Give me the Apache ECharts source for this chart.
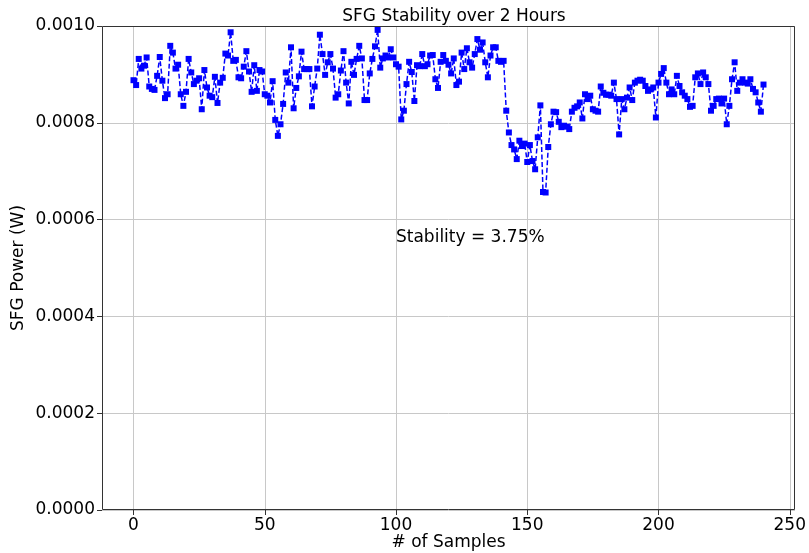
<!DOCTYPE html>
<html>
<head>
<meta charset="utf-8">
<script src="https://cdn.jsdelivr.net/npm/echarts@6/dist/echarts.min.js"></script>
<style>
  html, body { margin: 0; padding: 0; background: #fff; }
  #chart { width: 809px; height: 553px; }
</style>
</head>
<body>
<div id="chart"></div>
<script>
// SFG power readings (W), one per sample
var power = [
    0.000888, 0.000878, 0.000932, 0.000912, 0.000918, 0.000935, 0.000875, 0.000870, 0.000868, 0.000897,
    0.000936, 0.000887, 0.000851, 0.000859, 0.000959, 0.000945, 0.000912, 0.000920, 0.000859, 0.000835,
    0.000864, 0.000932, 0.000904, 0.000880, 0.000887, 0.000892, 0.000828, 0.000909, 0.000873, 0.000856,
    0.000853, 0.000895, 0.000841, 0.000883, 0.000893, 0.000943, 0.000939, 0.000987, 0.000928, 0.000930,
    0.000894, 0.000892, 0.000916, 0.000948, 0.000906, 0.000864, 0.000919, 0.000866, 0.000909, 0.000906,
    0.000859, 0.000856, 0.000842, 0.000886, 0.000806, 0.000773, 0.000797, 0.000839, 0.000904, 0.000883,
    0.000956, 0.000830, 0.000872, 0.000896, 0.000947, 0.000911, 0.000911, 0.000911, 0.000834, 0.000875,
    0.000912, 0.000982, 0.000942, 0.000899, 0.000925, 0.000942, 0.000912, 0.000852, 0.000859, 0.000908,
    0.000948, 0.000883, 0.000840, 0.000926, 0.000899, 0.000932, 0.000959, 0.000933, 0.000847, 0.000847,
    0.000902, 0.000932, 0.000958, 0.000992, 0.000914, 0.000933, 0.000939, 0.000935, 0.000952, 0.000935,
    0.000921, 0.000916, 0.000807, 0.000825, 0.000880, 0.000926, 0.000905, 0.000845, 0.000919, 0.000917,
    0.000942, 0.000917, 0.000921, 0.000939, 0.000940, 0.000890, 0.000872, 0.000926, 0.000940, 0.000928,
    0.000920, 0.000902, 0.000933, 0.000878, 0.000885, 0.000945, 0.000911, 0.000954, 0.000925, 0.000914,
    0.000942, 0.000973, 0.000951, 0.000966, 0.000925, 0.000894, 0.000939, 0.000956, 0.000956, 0.000928,
    0.000926, 0.000928, 0.000825, 0.000780, 0.000754, 0.000745, 0.000725, 0.000763, 0.000752, 0.000757,
    0.000719, 0.000754, 0.000721, 0.000704, 0.000770, 0.000836, 0.000657, 0.000656, 0.000750, 0.000797,
    0.000823, 0.000822, 0.000802, 0.000791, 0.000794, 0.000792, 0.000787, 0.000823, 0.000831, 0.000834,
    0.000842, 0.000809, 0.000859, 0.000849, 0.000856, 0.000828, 0.000825, 0.000823, 0.000875, 0.000862,
    0.000858, 0.000858, 0.000856, 0.000883, 0.000849, 0.000776, 0.000849, 0.000828, 0.000852, 0.000873,
    0.000847, 0.000883, 0.000887, 0.000889, 0.000887, 0.000876, 0.000866, 0.000869, 0.000873, 0.000811,
    0.000883, 0.000901, 0.000913, 0.000883, 0.000859, 0.000869, 0.000859, 0.000897, 0.000876, 0.000863,
    0.000856, 0.000849, 0.000833, 0.000835, 0.000894, 0.000902, 0.000880, 0.000904, 0.000894, 0.000880,
    0.000825, 0.000835, 0.000849, 0.000850, 0.000840, 0.000850, 0.000797, 0.000835, 0.000890, 0.000925,
    0.000866, 0.000883, 0.000890, 0.000883, 0.000881, 0.000890, 0.000870, 0.000863, 0.000842, 0.000823,
    0.000879
];
var xTicks = [0, 50, 100, 150, 200, 250];
var stabilityText = 'Stability = 3.75%';

var chart = echarts.init(document.getElementById('chart'));

var points = power.map((v, i) => [i, v]);
var font = 'DejaVu Sans';

var option = {
    animation: false,
    title: {
        text: 'SFG Stability over 2 Hours',
        left: 449,
        textAlign: 'center',
        top: 3,
        textStyle: { fontFamily: font, fontSize: 17, fontWeight: 'normal', color: '#000' }
    },
    grid: { left: 102, right: 14, top: 26, bottom: 43, containLabel: false, outerBoundsMode: 'none' },
    xAxis: {
        type: 'value',
        min: -12,
        max: 252,
        name: '# of Samples',
        nameLocation: 'middle',
        nameGap: 24,
        nameMoveOverlap: false,
        nameTextStyle: { fontFamily: font, fontSize: 17, color: '#000', verticalAlign: 'top' },
        axisLine: { show: false, onZero: false },
        axisTick: { show: true, length: 5, customValues: xTicks, lineStyle: { color: '#333' } },
        axisLabel: {
            fontFamily: font, fontSize: 17, color: '#000', margin: 7,
            customValues: xTicks
        },
        splitLine: { show: true, customValues: xTicks, lineStyle: { color: '#c8c8c8', width: 1 } }
    },
    yAxis: {
        type: 'value',
        min: 0,
        max: 0.001,
        interval: 0.0002,
        name: 'SFG Power (W)',
        nameLocation: 'middle',
        nameGap: 75,
        nameMoveOverlap: false,
        nameTextStyle: { fontFamily: font, fontSize: 17, color: '#000' },
        axisLine: { show: false, onZero: false },
        axisTick: { show: true, length: 5, lineStyle: { color: '#333' } },
        axisLabel: {
            fontFamily: font, fontSize: 17, color: '#000', margin: 7,
            formatter: v => v.toFixed(4)
        },
        splitLine: { show: true, lineStyle: { color: '#c8c8c8', width: 1 } }
    },
    graphic: [
        {
            type: 'rect',
            shape: { x: 102.5, y: 26.5, width: 692, height: 483 },
            style: { fill: 'none', stroke: '#333', lineWidth: 1 },
            silent: true,
            z: 10
        },
        {
            type: 'text',
            left: 396, top: 229,
            style: { text: stabilityText, fontFamily: font, fontSize: 17, fill: '#000' }
        }
    ],
    series: [
        {
            name: 'SFG Power',
            type: 'line',
            data: points,
            symbol: 'rect',
            symbolSize: 6,
            itemStyle: { color: '#0000ff' },
            lineStyle: { color: '#0000ff', width: 1.5, type: [5, 2.5] }
        }
    ]
};
chart.setOption(option);
</script>
</body>
</html>
